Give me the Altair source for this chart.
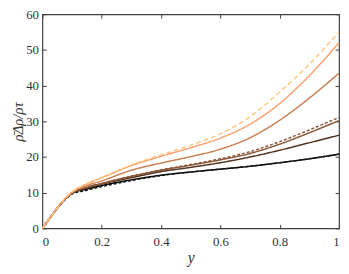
import altair as alt
import pandas as pd

# sample positions along y
x_vals = [0, 0.02, 0.04, 0.06, 0.08, 0.1, 0.15, 0.2, 0.3, 0.4, 0.5, 0.6, 0.7, 0.8, 0.9, 1.0]

black_solid = [0, 2.3, 4.6, 6.7, 8.5, 9.9, 11.0, 12.0, 13.6, 14.9, 15.8, 16.6, 17.4, 18.4, 19.5, 20.8]
black_dashed = [0, 2.2, 4.5, 6.6, 8.3, 9.6, 10.7, 11.7, 13.4, 14.8, 15.8, 16.6, 17.4, 18.4, 19.5, 20.8]
dark_brown = [0, 2.3, 4.6, 6.7, 8.5, 9.9, 11.3, 12.4, 14.2, 15.9, 17.1, 18.4, 20.0, 21.9, 24.0, 26.1]
brown = [0, 2.3, 4.6, 6.7, 8.5, 9.9, 11.5, 12.6, 14.6, 16.3, 17.7, 19.2, 21.0, 23.6, 26.8, 30.2]
brown_dashed = [0, 2.3, 4.6, 6.7, 8.5, 9.9, 11.5, 12.6, 14.6, 16.4, 17.9, 19.5, 21.5, 24.3, 27.6, 31.1]
light_brown = [0, 2.3, 4.6, 6.8, 8.6, 10.0, 12.0, 13.3, 16.3, 18.3, 20.1, 22.2, 25.4, 30.3, 36.5, 43.5]
orange = [0, 2.3, 4.6, 6.8, 8.7, 10.2, 12.5, 14.2, 17.6, 20.2, 22.6, 25.3, 29.2, 35.0, 42.8, 52.0]
orange_dashed = [0, 2.3, 4.6, 6.8, 8.7, 10.2, 12.5, 14.2, 17.8, 20.6, 23.3, 26.5, 31.3, 38.2, 46.0, 55.0]

series_names = ["s1", "s2", "s3", "s4", "s5", "s6", "s7", "s8"]
series_values = [black_solid, black_dashed, dark_brown, brown, brown_dashed,
                 light_brown, orange, orange_dashed]
series_colors = ["#000000", "#1a1a1a", "#50321F", "#8A5636", "#8A5636",
                 "#C97E50", "#FCA06C", "#FFC77F"]
series_dash = [[1, 0], [3, 2], [1, 0], [1, 0], [3, 2], [1, 0], [1, 0], [5, 3]]

x_ticks = [0, 0.2, 0.4, 0.6, 0.8, 1]
y_ticks = [0, 10, 20, 30, 40, 50, 60]

rows = []
for name, vals in zip(series_names, series_values):
    for xv, yv in zip(x_vals, vals):
        rows.append({"x": xv, "v": yv, "series": name})
df = pd.DataFrame(rows)

W, H = 302, 218
font = "Liberation Serif"

chart = alt.Chart(df).mark_line(strokeWidth=1.5, interpolate="monotone").encode(
    x=alt.X("x:Q", scale=alt.Scale(domain=[0, 1], nice=False),
            axis=alt.Axis(values=x_ticks, format="~g", title="y", grid=True,
                          gridDash=[4, H - 8, 4], gridColor="#404040", gridWidth=1,
                          gridOpacity=1, tickSize=0, domain=False, labelPadding=7,
                          titlePadding=2)),
    y=alt.Y("v:Q", scale=alt.Scale(domain=[0, 60], nice=False),
            axis=alt.Axis(values=y_ticks, title="ρ\u0304Δρ/ρτ", grid=True,
                          gridDash=[4, W - 8, 4], gridColor="#404040", gridWidth=1,
                          gridOpacity=1, tickSize=0, domain=False, labelPadding=4,
                          titlePadding=0, titleFontSize=15)),
    color=alt.Color("series:N", scale=alt.Scale(domain=series_names, range=series_colors), legend=None),
    strokeDash=alt.StrokeDash("series:N", scale=alt.Scale(domain=series_names, range=series_dash), legend=None),
    order=alt.Order("x:Q"),
).properties(
    width=W, height=H,
    padding={"left": 35, "top": 4, "right": 2, "bottom": 40},
    autosize=alt.AutoSizeParams(type="none"),
).configure_view(
    stroke="#404040", strokeWidth=1.2
).configure_axis(
    labelFont=font, labelFontSize=13, labelColor="#333333",
    titleFont=font, titleFontSize=16, titleFontStyle="italic", titleFontWeight="normal",
    titleColor="#333333",
)

chart.save("out.html", embed_options={"renderer": "svg", "actions": False})
